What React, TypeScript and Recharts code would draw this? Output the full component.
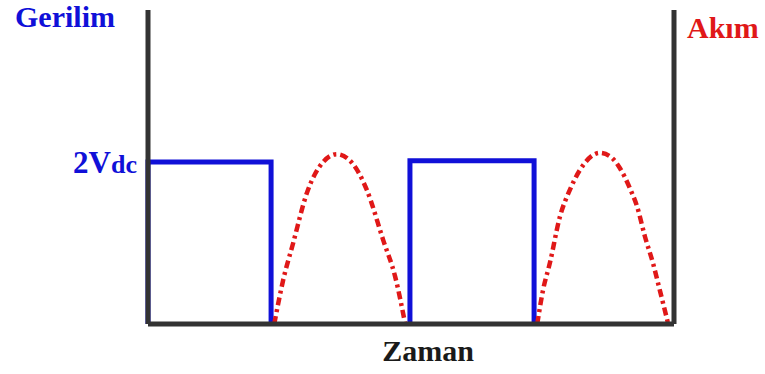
import { LineChart, Line, XAxis, YAxis } from 'recharts';

// time axis runs 0..100, level axis 0..100 (both arbitrary units)
const voltageTime = [0, 0, 23.4, 23.4, 36.6, 49.8, 49.8, 73.4, 73.4];
const voltageLevel = [0, 51.6, 51.6, 0, null, 0, 52, 52, 0];

const currentTime = [24.0, 25.7, 27.6, 30.2, 33.3, 35.9, 38.8, 41.6, 44.7, 47.0, 48.9, 61.4,
  74.0, 75.1, 76.4, 78.3, 80.2, 82.1, 85.9, 88.2, 89.7, 91.6, 93.0, 94.5, 96.0, 97.3, 98.9];
const currentLevel = [0, 14.0, 25.8, 41.7, 51.6, 54.1, 51.3, 42.7, 26.8, 15.0, 0, null,
  0, 10.8, 19.4, 34.1, 42.7, 49.0, 54.5, 52.9, 49.7, 43.3, 37.3, 27.7, 19.4, 10.8, 0];

const levelTicks = [51.6];
const levelTickText = ['2V', 'dc'];

const voltageData = voltageTime.map((t, i) => ({ t, v: voltageLevel[i] }));
const currentData = currentTime.map((t, i) => ({ t, a: currentLevel[i] }));

const FONT = 'Liberation Serif, Times New Roman, serif';
const BLUE = '#1010d8';
const RED = '#e01818';
const AXIS = '#333333';

function VdcTick({ x, y }: { x: number; y: number }) {
  return (
    <text x={x} y={y + 11} textAnchor="end" fill={BLUE} fontFamily={FONT} fontWeight="bold">
      <tspan fontSize={31}>{levelTickText[0]}</tspan>
      <tspan fontSize={26}>{levelTickText[1]}</tspan>
    </text>
  );
}

export default function App() {
  return (
    <div style={{ position: 'absolute', left: 0, top: 0, width: 765, height: 374, background: '#fff' }}>
      <LineChart width={765} height={374} data={voltageData} margin={{ top: 10, right: 90, bottom: 49, left: 147 }}>
        <XAxis
          dataKey="t"
          type="number"
          domain={[0, 100]}
          height={1}
          tick={false}
          tickLine={false}
          axisLine={{ stroke: AXIS, strokeWidth: 5 }}
        />
        <YAxis
          yAxisId="l"
          type="number"
          domain={[0, 100]}
          width={1}
          ticks={levelTicks}
          interval={0}
          tickSize={0}
          tickMargin={11}
          tickLine={false}
          tick={(p: any) => <VdcTick x={p.x} y={p.y} />}
          axisLine={{ stroke: AXIS, strokeWidth: 5 }}
        />
        <YAxis
          yAxisId="r"
          orientation="right"
          type="number"
          domain={[0, 100]}
          width={1}
          tick={false}
          tickLine={false}
          axisLine={{ stroke: AXIS, strokeWidth: 5 }}
        />
        <Line
          yAxisId="l"
          data={voltageData}
          dataKey="v"
          type="linear"
          stroke={BLUE}
          strokeWidth={5}
          strokeLinejoin="miter"
          dot={false}
          activeDot={false}
          isAnimationActive={false}
        />
        <Line
          yAxisId="l"
          data={currentData}
          dataKey="a"
          type="monotone"
          stroke={RED}
          strokeWidth={4.5}
          strokeDasharray="8 4 3 4"
          dot={false}
          activeDot={false}
          isAnimationActive={false}
        />
        <text x={15} y={27} fill={BLUE} fontSize={30} fontWeight="bold" fontFamily={FONT}>Gerilim</text>
        <text x={687} y={38} fill={RED} fontSize={30} fontWeight="bold" fontFamily={FONT}>Akım</text>
        <text x={428} y={361} textAnchor="middle" fill="#1a1a1a" fontSize={30} fontWeight="bold" fontFamily={FONT}>Zaman</text>
      </LineChart>
    </div>
  );
}
